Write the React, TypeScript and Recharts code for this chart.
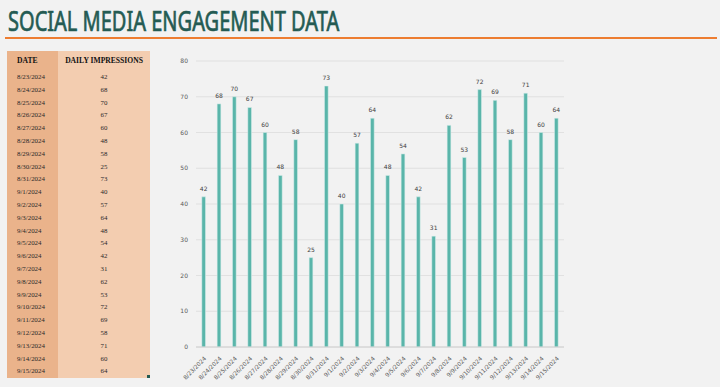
import { BarChart, Bar, XAxis, YAxis, CartesianGrid, LabelList } from 'recharts';

const dates = [
  '8/23/2024', '8/24/2024', '8/25/2024', '8/26/2024', '8/27/2024', '8/28/2024',
  '8/29/2024', '8/30/2024', '8/31/2024', '9/1/2024', '9/2/2024', '9/3/2024',
  '9/4/2024', '9/5/2024', '9/6/2024', '9/7/2024', '9/8/2024', '9/9/2024',
  '9/10/2024', '9/11/2024', '9/12/2024', '9/13/2024', '9/14/2024', '9/15/2024',
];
const impressions = [42, 68, 70, 67, 60, 48, 58, 25, 73, 40, 57, 64, 48, 54, 42, 31, 62, 53, 72, 69, 58, 71, 60, 64];
const yTicks = [0, 10, 20, 30, 40, 50, 60, 70, 80];

const chartFont = '"DejaVu Sans", sans-serif';
const tableFont = '"Liberation Serif", "Times New Roman", serif';

const data = dates.map((d, i) => ({ date: d, value: impressions[i] }));

function XTick(props: any) {
  const { x, y, payload } = props;
  return (
    <g transform={`translate(${x + 3},${y + 4})`}>
      <text
        textAnchor="end"
        transform="rotate(-45)"
        fontSize={5.8}
        fill="#595959"
        fontFamily={chartFont}
      >
        {payload.value}
      </text>
    </g>
  );
}

export default function App() {
  return (
    <div
      style={{
        position: 'fixed',
        left: 0,
        top: 0,
        width: 720,
        height: 387,
        background: '#f2f2f2',
        overflow: 'hidden',
      }}
    >
      <div
        style={{
          position: 'absolute',
          left: 8,
          top: 2,
          fontFamily: '"Noto Sans", sans-serif',
          fontSize: 28,
          color: '#245b53',
          whiteSpace: 'nowrap',
          transformOrigin: 'left top',
          transform: 'scaleX(0.715)',
          lineHeight: '36px',
          WebkitTextStroke: '0.7px #245b53',
        }}
      >
        SOCIAL MEDIA ENGAGEMENT DATA
      </div>
      <div style={{ position: 'absolute', left: 5, top: 37, width: 712, height: 2, background: '#ed7d31' }} />

      <div style={{ position: 'absolute', left: 7, top: 51, width: 143, height: 327, fontFamily: tableFont }}>
        <div style={{ position: 'absolute', left: 0, top: 0, width: 51, height: 327, background: '#eab38b' }} />
        <div style={{ position: 'absolute', left: 51, top: 0, width: 92, height: 327, background: '#f3cdb0' }} />
        <div
          style={{
            position: 'absolute', left: 10, top: 5, fontSize: 7.6, fontWeight: 'bold', color: '#111',
          }}
        >
          DATE
        </div>
        <div
          style={{
            position: 'absolute', left: 51, width: 92, top: 5, fontSize: 7.6, fontWeight: 'bold',
            color: '#111', textAlign: 'center', whiteSpace: 'nowrap',
          }}
        >
          DAILY IMPRESSIONS
        </div>
        {dates.map((d, i) => (
          <div key={d}>
            <div
              style={{
                position: 'absolute', left: 10, top: 22 + i * 12.8, fontSize: 6.9, color: '#2a2a2a', lineHeight: '8px',
              }}
            >
              {d}
            </div>
            <div
              style={{
                position: 'absolute', left: 51, width: 92, top: 22 + i * 12.8, fontSize: 6.9, color: '#2a2a2a',
                textAlign: 'center', lineHeight: '8px',
              }}
            >
              {impressions[i]}
            </div>
          </div>
        ))}
        <div style={{ position: 'absolute', left: 140, top: 324, width: 3, height: 3, background: '#245b53' }} />
      </div>

      <div style={{ position: 'absolute', left: 150, top: 50 }}>
        <BarChart
          width={430}
          height={337}
          data={data}
          margin={{ top: 11, right: 16, left: 0, bottom: 0 }}
          barCategoryGap="62%"
        >
          <CartesianGrid vertical={false} stroke="#dcdcdc" strokeWidth={0.8} />
          <XAxis
            dataKey="date"
            interval={0}
            height={40}
            tickLine={false}
            axisLine={{ stroke: '#d0d0d0' }}
            tick={<XTick />}
          />
          <YAxis
            width={46}
            domain={[0, 80]}
            ticks={yTicks}
            tickLine={false}
            axisLine={false}
            tick={{ fontSize: 6, fill: '#595959', fontFamily: chartFont }}
          />
          <Bar dataKey="value" fill="#5ab5aa" stroke="#d8efec" strokeWidth={0.5} isAnimationActive={false}>
            <LabelList
              dataKey="value"
              position="top"
              offset={6}
              fontSize={6}
              fill="#404040"
              fontFamily={chartFont}
            />
          </Bar>
        </BarChart>
      </div>
    </div>
  );
}
